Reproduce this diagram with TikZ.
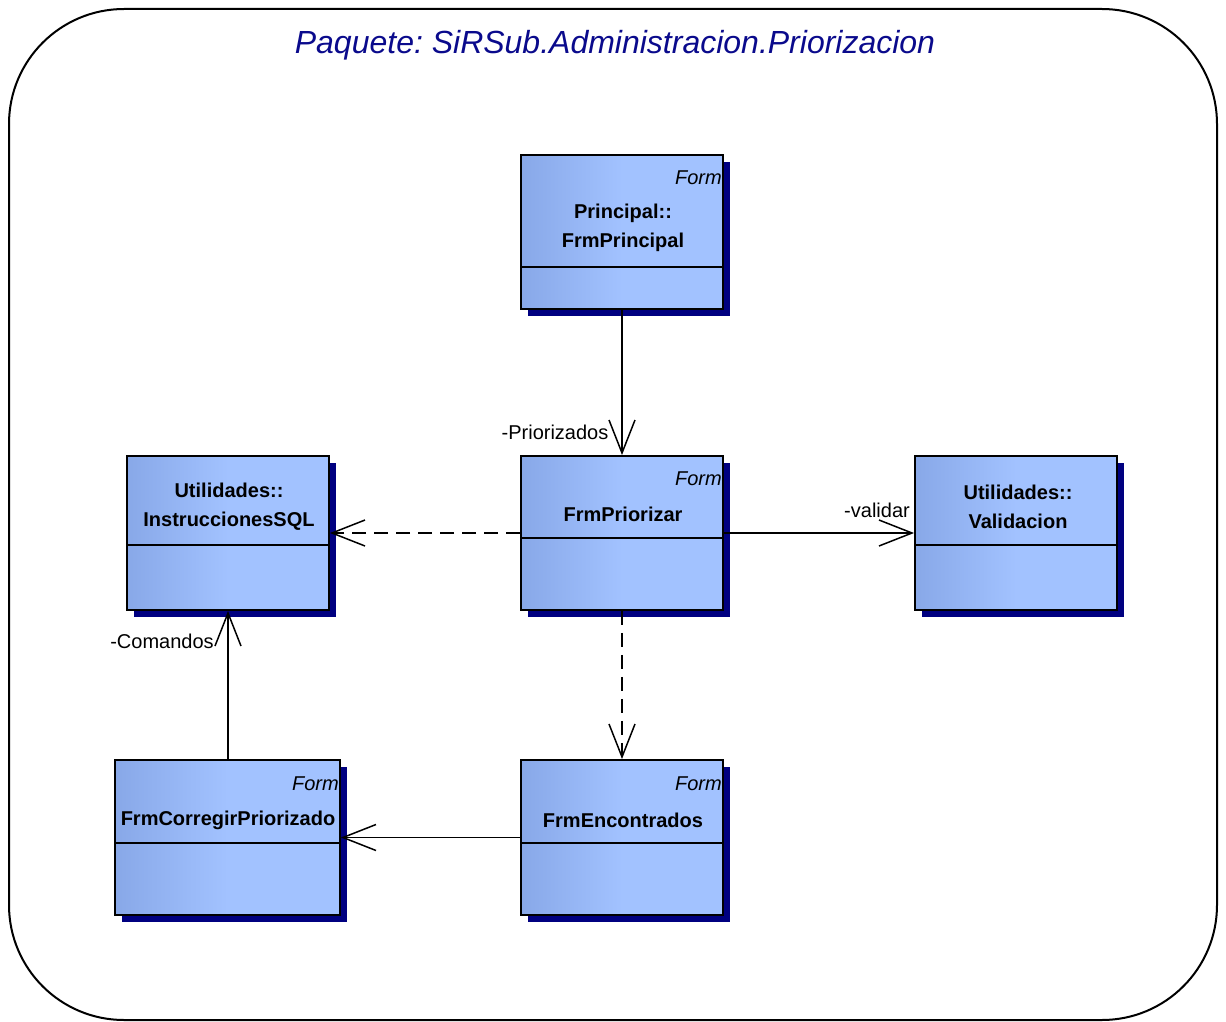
\documentclass[tikz,border=0pt]{standalone}
\usepackage{fontspec}
\setmainfont{Liberation Sans}
\usetikzlibrary{arrows.meta,shadows}
\definecolor{boxL}{RGB}{136,168,232}
\definecolor{boxR}{RGB}{162,194,255}
\definecolor{shad}{RGB}{0,0,128}
\definecolor{ttl}{RGB}{10,10,140}
\frenchspacing
\begin{document}
\begin{tikzpicture}[x=1pt,y=-1pt,
  cls/.style={draw=black, line width=1.9pt, left color=boxL, right color=boxR, middle color=boxR,
    inner sep=0pt, minimum width=202pt, minimum height=154pt,
    drop shadow={shadow xshift=7pt, shadow yshift=-7pt, fill=shad, opacity=1}},
  clsname/.style={font=\bfseries\fontsize{20}{29}\selectfont, align=center, inner sep=0pt},
  stereo/.style={font=\itshape\fontsize{20}{24}\selectfont, anchor=east, inner sep=0pt},
  role/.style={font=\fontsize{20}{24}\selectfont, inner sep=0pt},
  comp/.style={line width=1.5pt},
  conn/.style={line width=1.5pt, -{Straight Barb[length=33pt,width=26pt,line width=1.5pt]}},
  dep/.style={conn, dash pattern=on 14pt off 8pt}
]
\useasboundingbox (0,0) rectangle (1226,1022);
\draw[line width=2pt, rounded corners=115pt] (9,9) rectangle (1217,1020);
\node[font=\itshape\fontsize{32}{38}\selectfont, text=ttl, inner sep=0pt] (title) at (615,45) {Paquete: SiRSub.Administracion.Priorizacion};

% classes
\node[cls] (pr) at (622,232) {};
\node[cls] (pz) at (622,533) {};
\node[cls] (sql) at (228,533) {};
\node[cls] (val) at (1016,533) {};
\node[cls, minimum width=225pt, minimum height=155pt] (cor) at (227.5,837.5) {};
\node[cls, minimum height=155pt] (enc) at (622,837.5) {};

% compartments
\draw[comp] (521,267) -- (723,267);
\draw[comp] (521,538) -- (723,538);
\draw[comp] (127,545) -- (329,545);
\draw[comp] (915,545) -- (1117,545);
\draw[comp] (115,843) -- (340,843);
\draw[comp] (521,843) -- (723,843);

% texts
\node[stereo] (prs) at (722,178) {Form};
\node[stereo] (pzs) at (722,479) {Form};
\node[stereo] (encs) at (722,784) {Form};
\node[stereo] (cors) at (339,784) {Form};
\node[clsname] (prn) at (623,228) {Principal::\\FrmPrincipal};
\node[clsname] (pzn) at (623,514) {FrmPriorizar};
\node[clsname] (sqln) at (229,507) {Utilidades::\\InstruccionesSQL};
\node[clsname] (valn) at (1018,507) {Utilidades::\\Validacion};
\node[clsname] (corn) at (228,820) {FrmCorregirPriorizado};
\node[clsname] (encn) at (623,820) {FrmEncontrados};

% connectors
\draw[conn] (pr.south) -- (pz.north);
\draw[dep] (pz.west |- sql.east) -- (sql.east);
\draw[conn] (pz.east) -- (val.west);
\draw[dep] (pz.south) -- (enc.north);
\draw[conn] (enc.west) -- (cor.east);
\draw[conn] (cor.north -| sql.south) -- (sql.south);

% role labels
\node[role] (l1) at (555,432) {-Priorizados};
\node[role] (l2) at (877,510) {-validar};
\node[role] (l3) at (162,641) {-Comandos};
\end{tikzpicture}
\end{document}
